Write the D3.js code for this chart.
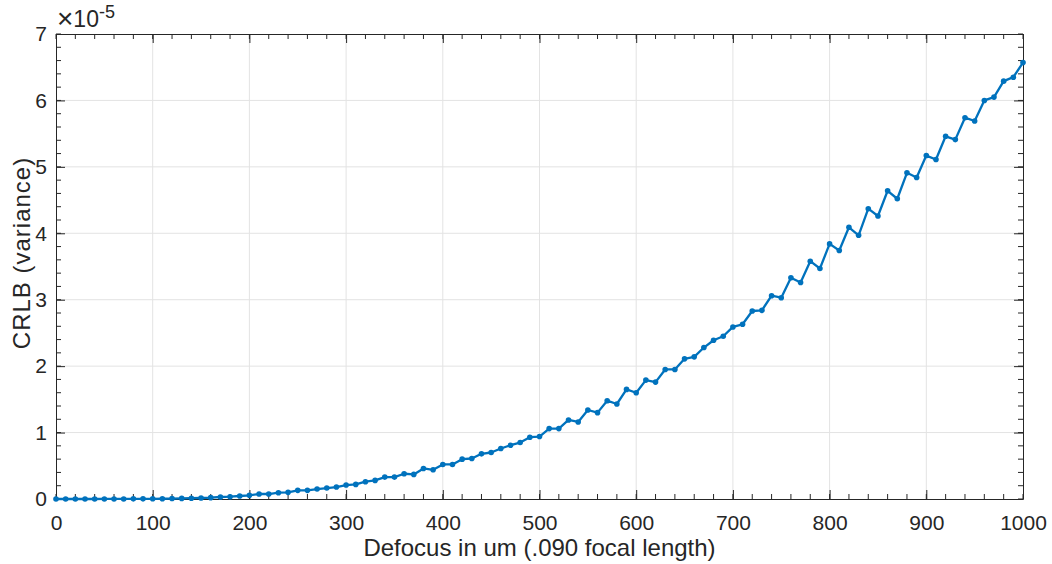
<!DOCTYPE html>
<html>
<head>
<meta charset="utf-8">
<script src="https://cdn.jsdelivr.net/npm/d3@7"></script>
<style>
  body { margin: 0; background: #fff; }
  text { font-family: "Liberation Sans", Arial, Helvetica, sans-serif; fill: #262626; }
</style>
</head>
<body>
<script>
// defocus in um, one sample every 10 um
const defocus = d3.range(0, 1001, 10);

// CRLB variance, in units of 1e-5
const crlb = [
  0, 0, 0, 0, 0, 0.001, 0.001, 0.001, 0.002, 0.002,
  0.003, 0.004, 0.007, 0.009, 0.012, 0.015, 0.02, 0.03, 0.035, 0.045,
  0.056, 0.075, 0.075, 0.095, 0.10, 0.13, 0.13, 0.15, 0.165, 0.18,
  0.21, 0.22, 0.26, 0.28, 0.33, 0.33, 0.38, 0.37, 0.46, 0.44,
  0.52, 0.52, 0.60, 0.61, 0.68, 0.70, 0.76, 0.81, 0.85, 0.93,
  0.94, 1.06, 1.06, 1.19, 1.16, 1.34, 1.30, 1.48, 1.43, 1.65,
  1.60, 1.79, 1.76, 1.95, 1.95, 2.11, 2.14, 2.28, 2.39, 2.45,
  2.59, 2.63, 2.83, 2.84, 3.06, 3.03, 3.33, 3.26, 3.58, 3.47,
  3.84, 3.74, 4.09, 3.97, 4.37, 4.26, 4.64, 4.52, 4.91, 4.84,
  5.17, 5.11, 5.46, 5.41, 5.74, 5.69, 6.00, 6.05, 6.29, 6.35,
  6.57
];

const xTicks = d3.range(0, 1001, 100);
const yTicks = d3.range(0, 8, 1);
const xMinor = d3.range(0, 1001, 20);
const yMinor = d3.range(0, 7.01, 0.2);

const W = 1052, H = 564;
const margin = { left: 56, right: 29, top: 34, bottom: 65 };
const iw = W - margin.left - margin.right;
const ih = H - margin.top - margin.bottom;

const svg = d3.select("body").append("svg")
    .attr("width", W)
    .attr("height", H);

const g = svg.append("g")
    .attr("transform", `translate(${margin.left},${margin.top})`);

const x = d3.scaleLinear().domain([0, 1000]).range([0, iw]);
const y = d3.scaleLinear().domain([0, 7]).range([ih, 0]);

// grid
g.append("g").selectAll("line")
    .data(xTicks.slice(1, -1))
    .enter().append("line")
    .attr("x1", d => x(d)).attr("x2", d => x(d))
    .attr("y1", 0).attr("y2", ih)
    .attr("stroke", "#e3e3e3").attr("stroke-width", 1);
g.append("g").selectAll("line")
    .data(yTicks.slice(1, -1))
    .enter().append("line")
    .attr("y1", d => y(d)).attr("y2", d => y(d))
    .attr("x1", 0).attr("x2", iw)
    .attr("stroke", "#e3e3e3").attr("stroke-width", 1);

// box + inward ticks on all sides
const axisColor = "#262626";

const axBottom = g.append("g").attr("transform", `translate(0,${ih})`)
    .call(d3.axisBottom(x).tickValues(xTicks).tickFormat(d3.format("d"))
        .tickSizeInner(-9).tickSizeOuter(0).tickPadding(16));
const axLeft = g.append("g")
    .call(d3.axisLeft(y).tickValues(yTicks).tickFormat(d3.format("d"))
        .tickSizeInner(-9).tickSizeOuter(0).tickPadding(17));
const axTop = g.append("g")
    .call(d3.axisTop(x).tickValues(xTicks).tickSizeInner(-9).tickSizeOuter(0).tickFormat(""));
const axRight = g.append("g").attr("transform", `translate(${iw},0)`)
    .call(d3.axisRight(y).tickValues(yTicks).tickSizeInner(-9).tickSizeOuter(0).tickFormat(""));

[axBottom, axLeft, axTop, axRight].forEach(a => {
    a.select(".domain").attr("stroke", axisColor).attr("stroke-width", 1);
    a.selectAll(".tick line").attr("stroke", axisColor);
    a.selectAll("text").attr("font-size", 21).attr("fill", axisColor)
        .style("font-family", "'Liberation Sans', Arial, sans-serif");
});
axLeft.selectAll("text").attr("dx", 8);

// minor ticks
const minor = g.append("g").attr("stroke", axisColor).attr("stroke-width", 1);
minor.selectAll(".mxb").data(xMinor).enter().append("line")
    .attr("x1", d => x(d)).attr("x2", d => x(d)).attr("y1", ih).attr("y2", ih - 5);
minor.selectAll(".mxt").data(xMinor).enter().append("line")
    .attr("x1", d => x(d)).attr("x2", d => x(d)).attr("y1", 0).attr("y2", 5);
minor.selectAll(".myl").data(yMinor).enter().append("line")
    .attr("y1", d => y(d)).attr("y2", d => y(d)).attr("x1", 0).attr("x2", 5);
minor.selectAll(".myr").data(yMinor).enter().append("line")
    .attr("y1", d => y(d)).attr("y2", d => y(d)).attr("x1", iw).attr("x2", iw - 5);

// data line
const points = defocus.map((d, i) => [d, crlb[i]]);
const line = d3.line().x(d => x(d[0])).y(d => y(d[1]));

g.append("path")
    .datum(points)
    .attr("d", line)
    .attr("fill", "none")
    .attr("stroke", "#0072BD")
    .attr("stroke-width", 2.3)
    .attr("stroke-linejoin", "round");

g.selectAll(".dot")
    .data(points)
    .enter().append("circle")
    .attr("class", "dot")
    .attr("cx", d => x(d[0]))
    .attr("cy", d => y(d[1]))
    .attr("r", 2.8)
    .attr("fill", "#0072BD");

// exponent label
const expo = svg.append("text")
    .attr("x", margin.left + 1)
    .attr("y", 27)
    .attr("font-size", 23);
expo.append("tspan").attr("font-size", 28).attr("dy", 1).text("\u00d7");
expo.append("tspan").attr("dy", -1).text("10");
expo.append("tspan").attr("font-size", 18).attr("dy", -9).text("-5");

// axis labels
svg.append("text")
    .attr("x", margin.left + iw / 2)
    .attr("y", 556)
    .attr("text-anchor", "middle")
    .attr("font-size", 24)
    .text("Defocus in um (.090 focal length)");

svg.append("text")
    .attr("transform", `translate(30,253) rotate(-90)`)
    .attr("text-anchor", "middle")
    .attr("font-size", 24)
    .attr("letter-spacing", 1)
    .text("CRLB (variance)");
</script>
</body>
</html>
